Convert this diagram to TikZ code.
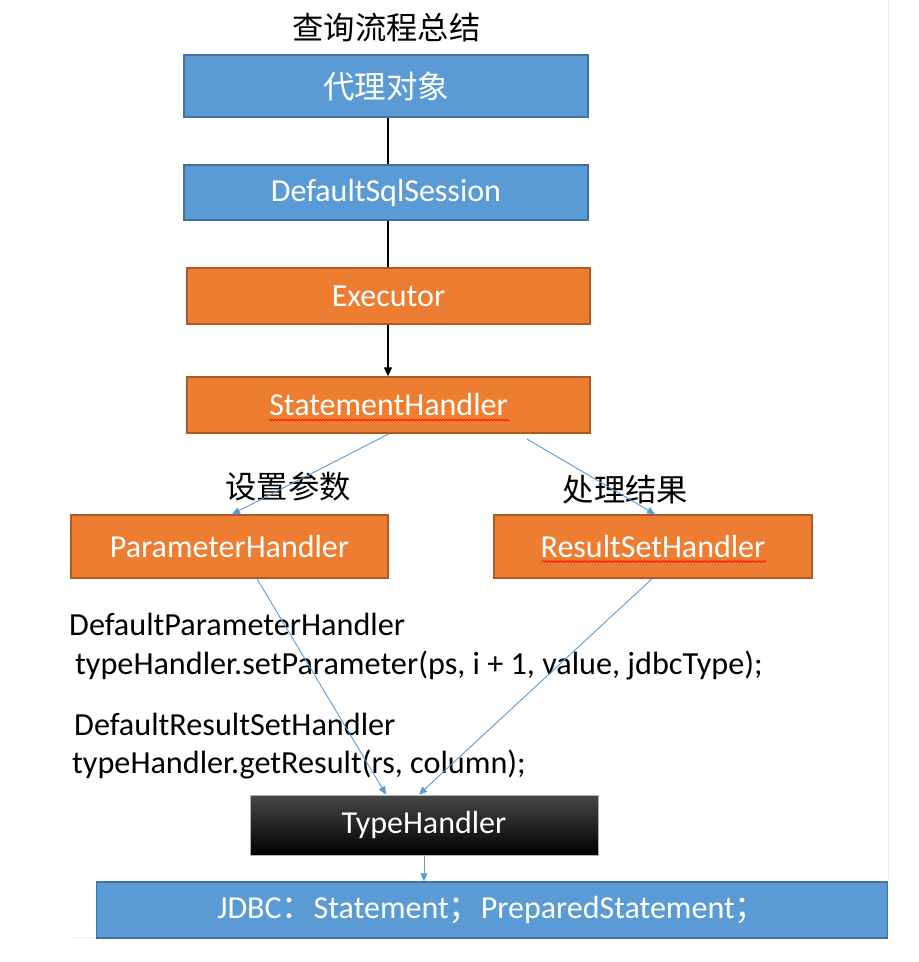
\documentclass[tikz,border=0pt]{standalone}
\usepackage{fontspec}
\setmainfont{Carlito}
\newfontfamily\cjk{Noto Sans CJK SC}
\usetikzlibrary{arrows.meta,decorations.pathmorphing,calc}
\definecolor{boxblue}{HTML}{5B9BD5}
\definecolor{blueedge}{HTML}{41719C}
\definecolor{boxorange}{HTML}{ED7D31}
\definecolor{orangeedge}{HTML}{AE5A21}
\begin{document}
\begin{tikzpicture}[x=1pt,y=-1pt,
  basebox/.style={rectangle, line width=1.5pt, text=white, inner sep=0pt,
    font=\fontsize{32}{36}\selectfont},
  bluebox/.style={basebox, draw=blueedge, fill=boxblue},
  orangebox/.style={basebox, draw=orangeedge, fill=boxorange},
  blackbox/.style={basebox, draw=gray!60, line width=1pt, top color=black!72, bottom color=black},
  plain/.style={text=black, inner sep=0pt, font=\fontsize{32.2}{36}\selectfont},
  cjklabel/.style={text=black, inner sep=0pt, font=\cjk\fontsize{31.3}{34}\selectfont},
  darkline/.style={draw=black, line width=1.5pt},
  darkarrow/.style={darkline, -{Triangle[length=9pt,width=8pt]}},
  bluearrow/.style={draw=boxblue, line width=0.9pt, -{Triangle[length=8pt,width=7pt]}},
  spell/.style={draw=red, line width=0.6pt, decorate, decoration={snake, amplitude=0.9pt, segment length=3pt}},
  edge/.style={draw=gray!12, line width=1pt}
]
\useasboundingbox (0,0) rectangle (919,962);

% faint screenshot edges
\draw[edge] (888,0) -- (888,882);
\draw[edge] (71,937) -- (96,937);

% title
\node[cjklabel] (title) at (386.5,28) {查询流程总结};

% boxes
\node[bluebox, minimum width=404pt, minimum height=62pt, font=\cjk\fontsize{31.5}{34}\selectfont] (proxy) at (386,86) {代理对象};
\node[bluebox, minimum width=404pt, minimum height=55pt] (session) at (386,192.5) {DefaultSqlSession};
\node[orangebox, minimum width=403pt, minimum height=56pt] (exec) at (388.5,296) {Executor};
\node[orangebox, minimum width=403pt, minimum height=56pt] (stmt) at (388.5,405) {StatementHandler};
\node[orangebox, minimum width=317pt, minimum height=63pt] (param) at (229.5,546.5) {ParameterHandler};
\node[orangebox, minimum width=318pt, minimum height=63pt] (result) at (653,546.5) {ResultSetHandler};
\node[blackbox, minimum width=348pt, minimum height=60pt] (type) at (424,825) {TypeHandler};
\node[bluebox, minimum width=791pt, minimum height=56pt] (jdbc) at (492,910) {JDBC{\cjk ：}Statement{\cjk ；}PreparedStatement{\cjk ；}};

% spell-check underlines
\draw[spell] ($(stmt.center)+(-120,15)$) -- ($(stmt.center)+(121,15)$);
\draw[spell] ($(result.center)+(-111,15)$) -- ($(result.center)+(113,15)$);

% branch labels
\node[cjklabel] (setp) at (288,487) {设置参数};
\node[cjklabel] (proc) at (625.5,490) {处理结果};

% code text
\node[plain, anchor=base west] (dph) at (69,635) {DefaultParameterHandler};
\node[plain, anchor=base west] (setcall) at (75,674) {typeHandler.setParameter(ps, i + 1, value, jdbcType);};
\node[plain, anchor=base west] (drh) at (74,735) {DefaultResultSetHandler};
\node[plain, anchor=base west] (getcall) at (72,773) {typeHandler.getResult(rs, column);};

% black connectors
\draw[darkline] (proxy.south -| 388,0) -- (session.north -| 388,0);
\draw[darkline] (session.south -| 388,0) -- (exec.north -| 388,0);
\draw[darkarrow] (exec.south -| 388,0) -- (stmt.north -| 388,0);

% blue connectors
\coordinate (s1) at (stmt.south -| 389,0);
\coordinate (s2) at (527,439);
\coordinate (p1) at (param.north -| 232,0);
\coordinate (r1) at (result.north -| 655,0);
\coordinate (p2) at (param.south -| 257,0);
\coordinate (r2) at (result.south -| 652,0);
\coordinate (t1) at (type.north -| 386,0);
\coordinate (t2) at (type.north -| 419,0);
\draw[bluearrow] (s1) -- (p1);
\draw[bluearrow] (s2) -- (r1);
\draw[bluearrow] (p2) -- (t1);
\draw[bluearrow] (r2) -- (t2);
\draw[bluearrow] (type.south) -- (type.south |- jdbc.north);
\end{tikzpicture}
\end{document}
